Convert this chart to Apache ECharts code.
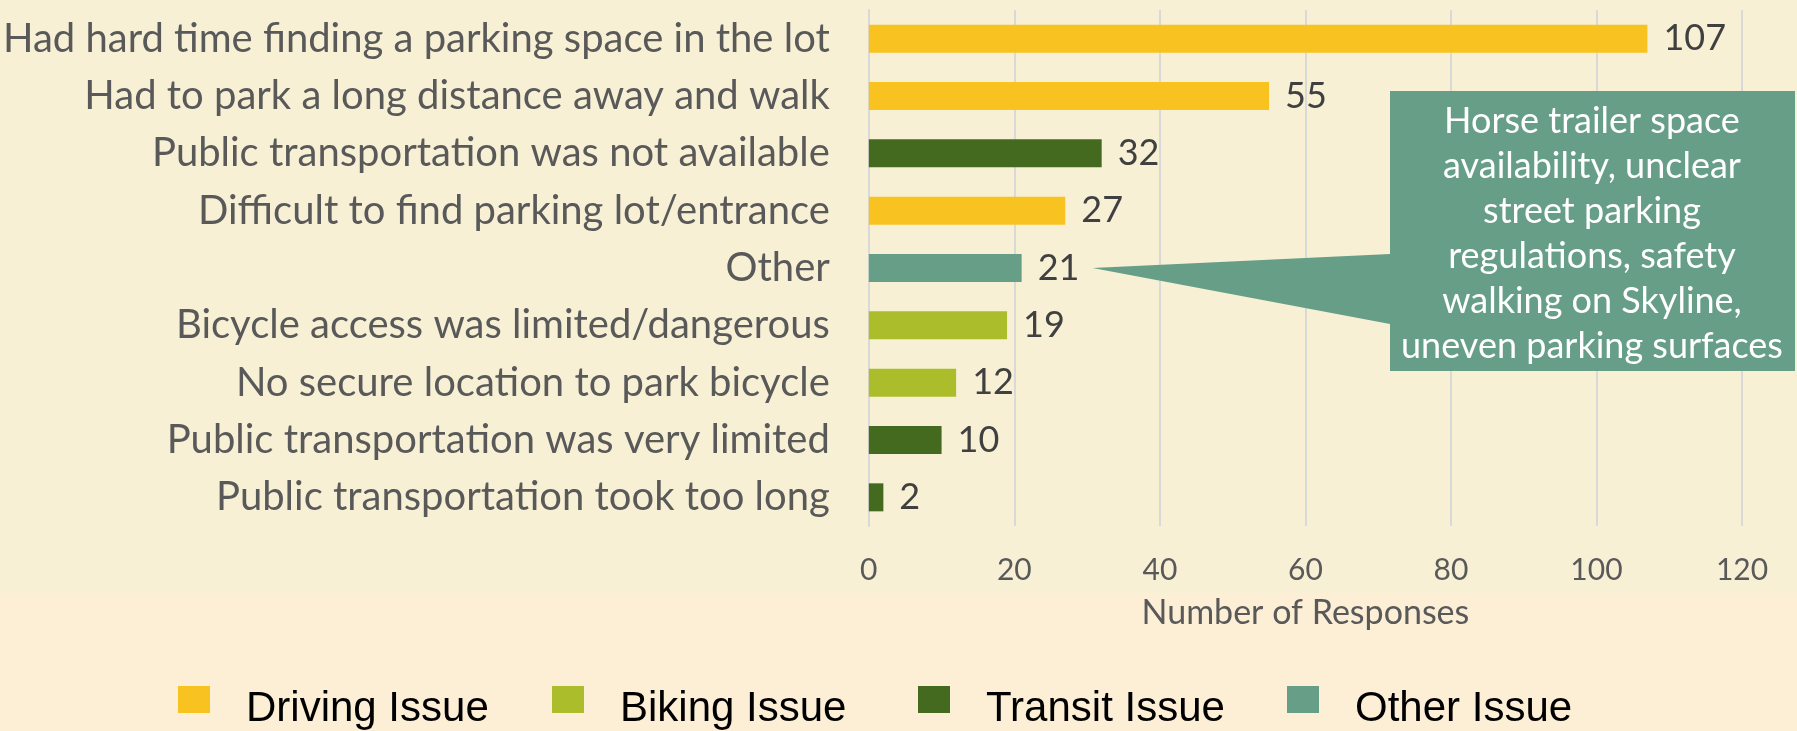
<!DOCTYPE html>
<html>
<head>
<meta charset="utf-8">
<script src="https://cdn.jsdelivr.net/npm/echarts@6/dist/echarts.min.js"></script>
<style>
  html, body { margin: 0; padding: 0; }
  #chart {
    width: 1797px;
    height: 731px;
    background: linear-gradient(#f7f0d5 0, #f7f0d5 593px, #fdefd6 593px, #fdefd6 100%);
  }
</style>
</head>
<body>
<div id="chart"></div>
<script>
// survey answers, top to bottom
var categories = [
  "Had hard time finding a parking space in the lot",
  "Had to park a long distance away and walk",
  "Public transportation was not available",
  "Difficult to find parking lot/entrance",
  "Other",
  "Bicycle access was limited/dangerous",
  "No secure location to park bicycle",
  "Public transportation was very limited",
  "Public transportation took too long"
];
var responses = [107, 55, 32, 27, 21, 19, 12, 10, 2];
var issueOf = ["Driving Issue", "Driving Issue", "Transit Issue", "Driving Issue", "Other Issue",
  "Biking Issue", "Biking Issue", "Transit Issue", "Transit Issue"];
var issueNames = ["Driving Issue", "Biking Issue", "Transit Issue", "Other Issue"];
var issueColors = ["#f8c320", "#abbd2b", "#436a1f", "#669e88"];
var xTicks = [0, 20, 40, 60, 80, 100, 120];
var otherNote = "Horse trailer space\navailability, unclear\nstreet parking\nregulations, safety\nwalking on Skyline,\nuneven parking surfaces";

var font = "Lato, 'Open Sans', sans-serif";
var legendLeft = [178, 552, 918, 1287];
// square sits in the upper part of the item box so the text lands a bit lower
var legendIcon = "path://M0,0H32V27H0Z M0,47L0.001,47";
var myChart = echarts.init(document.getElementById("chart"));

var series = issueNames.map(function (name, i) {
  return {
    name: name,
    type: "bar",
    stack: "total",
    barWidth: 28,
    itemStyle: { color: issueColors[i] },
    label: {
      show: true,
      position: "right",
      distance: 16,
      color: "#404040",
      fontFamily: font,
      fontSize: 36
    },
    data: responses.map(function (v, k) {
      return issueOf[k] === name ? v : "-";
    })
  };
});

// one legend per item so each sits where the original has it
var legends = issueNames.map(function (name, i) {
  return {
    data: [name],
    left: legendLeft[i],
    top: 686,
    padding: 0,
    icon: legendIcon,
    itemWidth: 32,
    itemHeight: 47,
    textStyle: {
      fontFamily: "'Liberation Sans', Arial, sans-serif",
      fontSize: 42,
      color: "#000",
      padding: [0, 0, 0, 31]
    }
  };
});

var option = {
  animation: false,
  textStyle: { fontFamily: font },
  grid: { left: 866, right: 55, top: 10, bottom: 205 },
  legend: legends,
  xAxis: {
    type: "value",
    min: xTicks[0],
    max: xTicks[xTicks.length - 1],
    interval: 20,
    name: "Number of Responses",
    nameLocation: "middle",
    nameGap: 70,
    nameTextStyle: { color: "#595959", fontSize: 34, fontFamily: font },
    axisLine: { show: false },
    axisTick: { show: false },
    axisLabel: { color: "#595959", fontSize: 30, margin: 29, fontFamily: font },
    splitLine: { lineStyle: { color: "#d9d9d9", width: 2 } }
  },
  yAxis: {
    type: "category",
    inverse: true,
    data: categories,
    axisLine: { lineStyle: { color: "#d9d9d9", width: 2 } },
    axisTick: { length: 13, lineStyle: { color: "#d9d9d9", width: 2 } },
    axisLabel: { color: "#595959", fontSize: 40, margin: 39, fontFamily: font }
  },
  series: series
};
myChart.setOption(option);

// callout box pointing at the "Other" bar
var anchor = myChart.convertToPixel({ xAxisIndex: 0, yAxisIndex: 0 }, [responses[4], categories[4]]);
var tipX = anchor[0] + 71, tipY = anchor[1];
myChart.setOption({
  graphic: [
    {
      type: "polygon",
      z: 100,
      shape: {
        points: [[1390, 91], [1795, 91], [1795, 371], [1390, 371], [1390, 324], [tipX, tipY], [1390, 254]]
      },
      style: { fill: "#669e88" }
    },
    {
      type: "text",
      z: 101,
      x: 1592,
      y: 234,
      style: {
        text: otherNote,
        fill: "#fff",
        font: "36px " + font,
        lineHeight: 45,
        align: "center",
        verticalAlign: "middle"
      }
    }
  ]
});
</script>
</body>
</html>
